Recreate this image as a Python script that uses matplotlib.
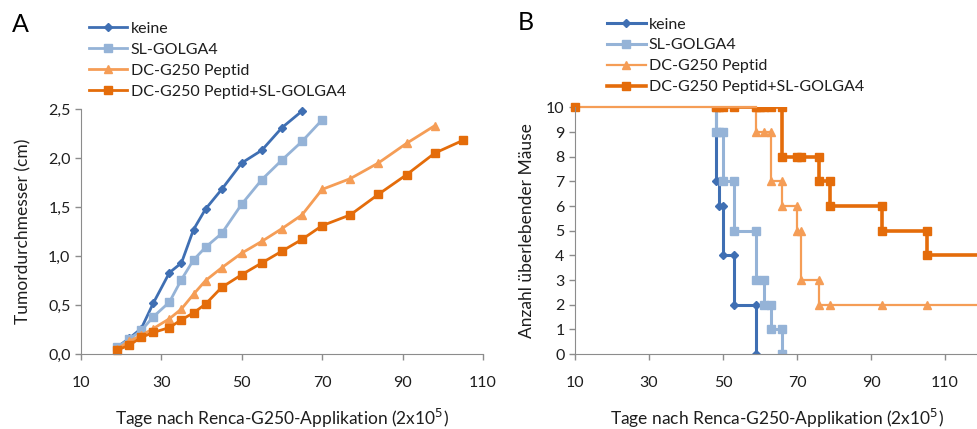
import numpy as np
import matplotlib.pyplot as plt

plt.rcParams['font.family'] = ['Lato', 'DejaVu Sans']

# Panel A: Tumordurchmesser
tage_keine = [19, 22, 25, 28, 32, 35, 38, 41, 45, 50, 55, 60, 65]
d_keine = [0.07, 0.16, 0.26, 0.52, 0.83, 0.93, 1.27, 1.48, 1.68, 1.95, 2.08, 2.31, 2.48]
tage_sl = [19, 22, 25, 28, 32, 35, 38, 41, 45, 50, 55, 60, 65, 70]
d_sl = [0.07, 0.15, 0.24, 0.38, 0.53, 0.76, 0.96, 1.09, 1.23, 1.53, 1.78, 1.98, 2.17, 2.39]
tage_pep = [19, 22, 25, 28, 32, 35, 38, 41, 45, 50, 55, 60, 65, 70, 77, 84, 91, 98]
d_pep = [0.05, 0.13, 0.19, 0.26, 0.36, 0.46, 0.61, 0.75, 0.88, 1.03, 1.15, 1.28, 1.42, 1.68, 1.79, 1.95, 2.15, 2.33]
tage_kombi = [19, 22, 25, 28, 32, 35, 38, 41, 45, 50, 55, 60, 65, 70, 77, 84, 91, 98, 105]
d_kombi = [0.04, 0.09, 0.17, 0.22, 0.27, 0.35, 0.42, 0.51, 0.68, 0.81, 0.93, 1.05, 1.17, 1.31, 1.42, 1.63, 1.83, 2.05, 2.18]

# Panel B: Überleben (Stufen wie in Excel)
s_tage_keine = [10, 48, 48, 49, 49, 50, 50, 53, 53, 59, 59]
s_keine = [10, 10, 7, 7, 6, 6, 4, 4, 2, 2, 0]
s_tage_sl = [10, 48, 48, 49, 50, 50, 53, 53, 59, 59, 61, 61, 63, 63, 66, 66]
s_sl = [10, 10, 9, 9, 9, 7, 7, 5, 5, 3, 3, 2, 2, 1, 1, 0]
s_tage_pep = [10, 59, 59, 61, 63, 63, 66, 66, 70, 70, 71, 71, 76, 76, 79, 93, 105, 121]
s_pep = [10, 10, 9, 9, 9, 7, 7, 6, 6, 5, 5, 3, 3, 2, 2, 2, 2, 2]
s_tage_kombi = [10, 48, 49, 50, 53, 59, 60, 61, 63, 66, 66, 70, 71, 76, 76, 79, 79, 93, 93, 105, 105, 121]
s_kombi = [10, 10, 10, 10, 10, 10, 10, 10, 10, 10, 8, 8, 8, 8, 7, 7, 6, 6, 5, 5, 4, 4]

namen = ['keine', 'SL-GOLGA4', 'DC-G250 Peptid', 'DC-G250 Peptid+SL-GOLGA4']
farben = ['#3f6fb3', '#95b3d7', '#f59d56', '#e46c0a']
marker = ['D', 's', '^', 's']
msize = [4, 6, 6, 6]
achse = '#8c8c8c'
text = '#1e1e1e'

fig = plt.figure(figsize=(9.78, 4.29), dpi=100)
axA = fig.add_axes([0.0828, 0.1748, 0.411, 0.571])
axB = fig.add_axes([0.588, 0.1748, 0.412, 0.575])

serienA = [(tage_keine, d_keine), (tage_sl, d_sl), (tage_pep, d_pep), (tage_kombi, d_kombi)]
for i, (x, y) in enumerate(serienA):
    axA.plot(x, y, color=farben[i], marker=marker[i], ms=msize[i], lw=2, label=namen[i],
             clip_on=False)

serienB = [(s_tage_keine, s_keine), (s_tage_sl, s_sl), (s_tage_pep, s_pep), (s_tage_kombi, s_kombi)]
lwB = [2.2, 2.2, 1.6, 2.6]
for i, (x, y) in enumerate(serienB):
    axB.plot(x[1:], y[1:], color=farben[i], marker=marker[i], ms=msize[i], lw=lwB[i], label=namen[i])
# gemeinsamer Startpunkt
axB.plot([s_tage_pep[0], s_tage_pep[1]], [s_pep[0], s_pep[1]], color=farben[2], lw=1.6, clip_on=False)
axB.plot(s_tage_kombi[0], s_kombi[0], color=farben[3], marker='s', ms=6, clip_on=False)

axA.set_xlim(10, 110)
axA.set_ylim(0, 2.5)
axA.set_xticks(range(10, 111, 20))
axA.set_yticks(np.arange(0, 2.51, 0.5))
axA.set_yticklabels([f'{v:.1f}'.replace('.', ',') for v in np.arange(0, 2.51, 0.5)])
axA.set_ylabel('Tumordurchmesser (cm)', fontsize=12.5, color=text, labelpad=12)

axB.set_xlim(10, 118.9)
axB.set_ylim(0, 10)
axB.set_xticks(range(10, 111, 20))
axB.set_yticks(range(0, 11))
axB.set_ylabel('Anzahl überlebender Mäuse', fontsize=12.5, color=text, labelpad=8)

for ax in (axA, axB):
    for s in ('top', 'right'):
        ax.spines[s].set_visible(False)
    for s in ('left', 'bottom'):
        ax.spines[s].set_color(achse)
    ax.tick_params(colors=achse, labelcolor=text, labelsize=11.5, length=4, width=1)
    ax.tick_params(axis='x', pad=12)
    ax.set_xlabel('Tage nach Renca-G250-Applikation (2x10$^5$)', fontsize=12.5, color=text, labelpad=12)
    ax.legend(loc='lower left', bbox_to_anchor=(0.0, 1.0), frameon=False, fontsize=11.5,
              handlelength=2.4, labelspacing=0.42, handletextpad=0.2, borderpad=0.1,
              borderaxespad=0.1, labelcolor=text)

axA.get_legend().set_bbox_to_anchor((0.012, 1.03))
axB.get_legend().set_bbox_to_anchor((0.072, 1.04))
axB.get_legend().labelspacing = 0.35

fig.text(0.012, 0.925, 'A', fontsize=18, color='black')
fig.text(0.529, 0.93, 'B', fontsize=18, color='black')

fig.savefig('out.png', dpi=100)
